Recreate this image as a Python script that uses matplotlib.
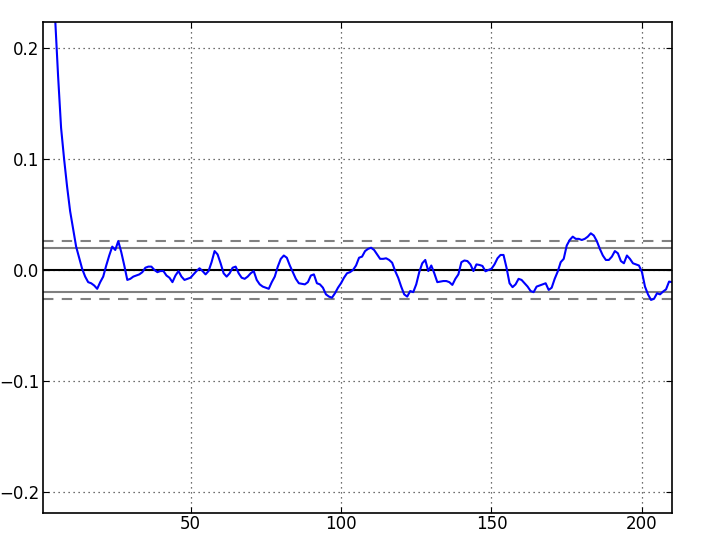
import numpy as np
import matplotlib
matplotlib.use("Agg")
import matplotlib.pyplot as plt

lags = list(range(1, 211))
autocorr = [
    0.90, 0.62, 0.43, 0.31, 0.228, 0.175, 0.128, 0.100, 0.075, 0.053,
    0.037, 0.021, 0.011, 0.001, -0.006, -0.011, -0.012, -0.014, -0.017, -0.011,
    -0.006, 0.004, 0.013, 0.021, 0.018, 0.026, 0.016, 0.004, -0.009, -0.008,
    -0.006, -0.005, -0.004, -0.002, 0.002, 0.003, 0.003, 0.000, -0.002, -0.001,
    -0.001, -0.005, -0.007, -0.011, -0.005, -0.001, -0.006, -0.009, -0.008, -0.007,
    -0.004, -0.001, 0.0015, -0.001, -0.004, -0.001, 0.007, 0.017, 0.014, 0.006,
    -0.003, -0.006, -0.003, 0.002, 0.003, -0.003, -0.007, -0.008, -0.006, -0.003,
    -0.001, -0.009, -0.013, -0.015, -0.016, -0.017, -0.011, -0.006, 0.003, 0.010,
    0.013, 0.011, 0.004, -0.002, -0.008, -0.012, -0.0125, -0.013, -0.011, -0.005,
    -0.004, -0.012, -0.013, -0.016, -0.022, -0.024, -0.025, -0.021, -0.016, -0.012,
    -0.007, -0.003, -0.002, 0.000, 0.004, 0.011, 0.012, 0.017, 0.019, 0.020,
    0.018, 0.014, 0.010, 0.010, 0.0105, 0.009, 0.0065, -0.001, -0.007, -0.015,
    -0.022, -0.024, -0.019, -0.020, -0.013, -0.002, 0.006, 0.009, -0.001, 0.004,
    -0.003, -0.011, -0.0105, -0.010, -0.010, -0.011, -0.0135, -0.008, -0.004, 0.007,
    0.0085, 0.008, 0.005, -0.001, 0.005, 0.0045, 0.0036, -0.0012, 0.000, 0.001,
    0.005, 0.0105, 0.0135, 0.0135, 0.002, -0.012, -0.0155, -0.013, -0.008, -0.009,
    -0.012, -0.015, -0.019, -0.020, -0.015, -0.014, -0.013, -0.012, -0.018, -0.016,
    -0.008, -0.0015, 0.007, 0.010, 0.022, 0.027, 0.030, 0.028, 0.028, 0.027,
    0.028, 0.030, 0.033, 0.031, 0.026, 0.019, 0.013, 0.009, 0.009, 0.012,
    0.017, 0.015, 0.008, 0.006, 0.013, 0.010, 0.006, 0.005, 0.004, -0.002,
    -0.015, -0.022, -0.027, -0.026, -0.021, -0.022, -0.0195, -0.0175, -0.0105, -0.011,
]
n_obs = 9800
z95 = 1.959963984540054
z99 = 2.5758293035489004
xticks = [50, 100, 150, 200]
yticks = [-0.2, -0.1, 0.0, 0.1, 0.2]

fig = plt.figure(figsize=(7.03, 5.35), dpi=100)
ax = fig.add_axes([0.0612, 0.0411, 0.8948, 0.9178])

ax.axhline(z99 / np.sqrt(n_obs), linestyle=(0, (5, 4)), color="grey", lw=1.5)
ax.axhline(z95 / np.sqrt(n_obs), color="grey", lw=1.5)
ax.axhline(0.0, color="black", lw=1.5)
ax.axhline(-z95 / np.sqrt(n_obs), color="grey", lw=1.5)
ax.axhline(-z99 / np.sqrt(n_obs), linestyle=(0, (5, 4)), color="grey", lw=1.5)
ax.plot(lags, autocorr, color="#0000ff", lw=1.5)

ax.set_xlim(1, 210)
ax.set_ylim(-0.219, 0.2234)
ax.set_xticks(xticks)
ax.set_yticks(yticks)
ax.grid(True, linestyle=(0, (1, 3)), color="0.25", lw=0.9)
ax.tick_params(direction="in", top=True, right=True, labelsize=12, length=4)
ax.tick_params(axis="x", pad=1.5)
ax.tick_params(axis="y", pad=2.5)
for s in ax.spines.values():
    s.set_linewidth(1.2)

fig.savefig("out.png", dpi=100)
